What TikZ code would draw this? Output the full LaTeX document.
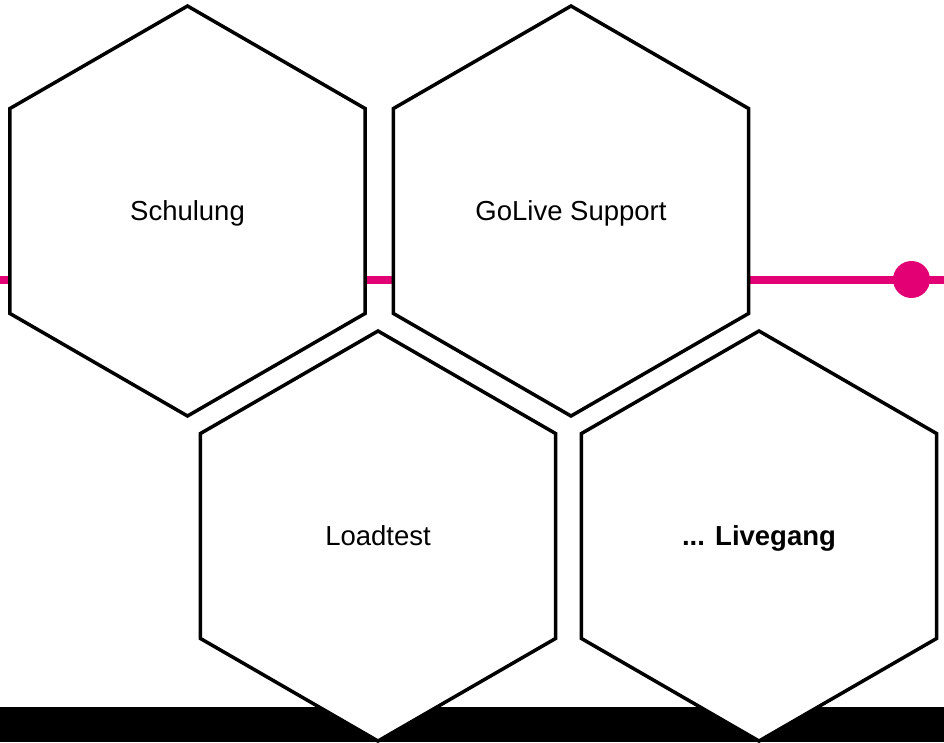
\documentclass[tikz,border=0pt]{standalone}
\usepackage{fontspec}
\setmainfont{Liberation Sans}
\usetikzlibrary{shapes.geometric}
\definecolor{magenta}{HTML}{E20074}
\begin{document}
\begin{tikzpicture}[x=1pt, y=-1pt,
	hexbox/.style={regular polygon, regular polygon sides=6, regular polygon rotate=30,
		minimum size=410pt, inner sep=0pt, draw=black, line width=3.5pt, fill=white,
		line join=miter, text height=23pt, text depth=5pt,
		font=\fontsize{27.5}{30}\selectfont},
	dotmark/.style={circle, fill=magenta, minimum size=37pt, inner sep=0pt}]
	\useasboundingbox (0,0) rectangle (944,742);

	\fill
		[black] (0,707) rectangle (944,742);

	\coordinate (lineL) at (0,280);
	\coordinate (lineR) at (944,280);
	\draw
		[magenta, line width=8.5pt] (lineL) -- (lineR);
	\node [dotmark] (dot) at (911.5,279.5) {};

	\node [hexbox] (schulung) at (187.5,211) {Schulung};

	\node [hexbox] (golive) at (571,211) {GoLive Support};

	\node [hexbox] (loadtest) at (378,536) {Loadtest};

	\node [hexbox] (livegang) at (759,536) {\bfseries ... Livegang};
\end{tikzpicture}
\end{document}
